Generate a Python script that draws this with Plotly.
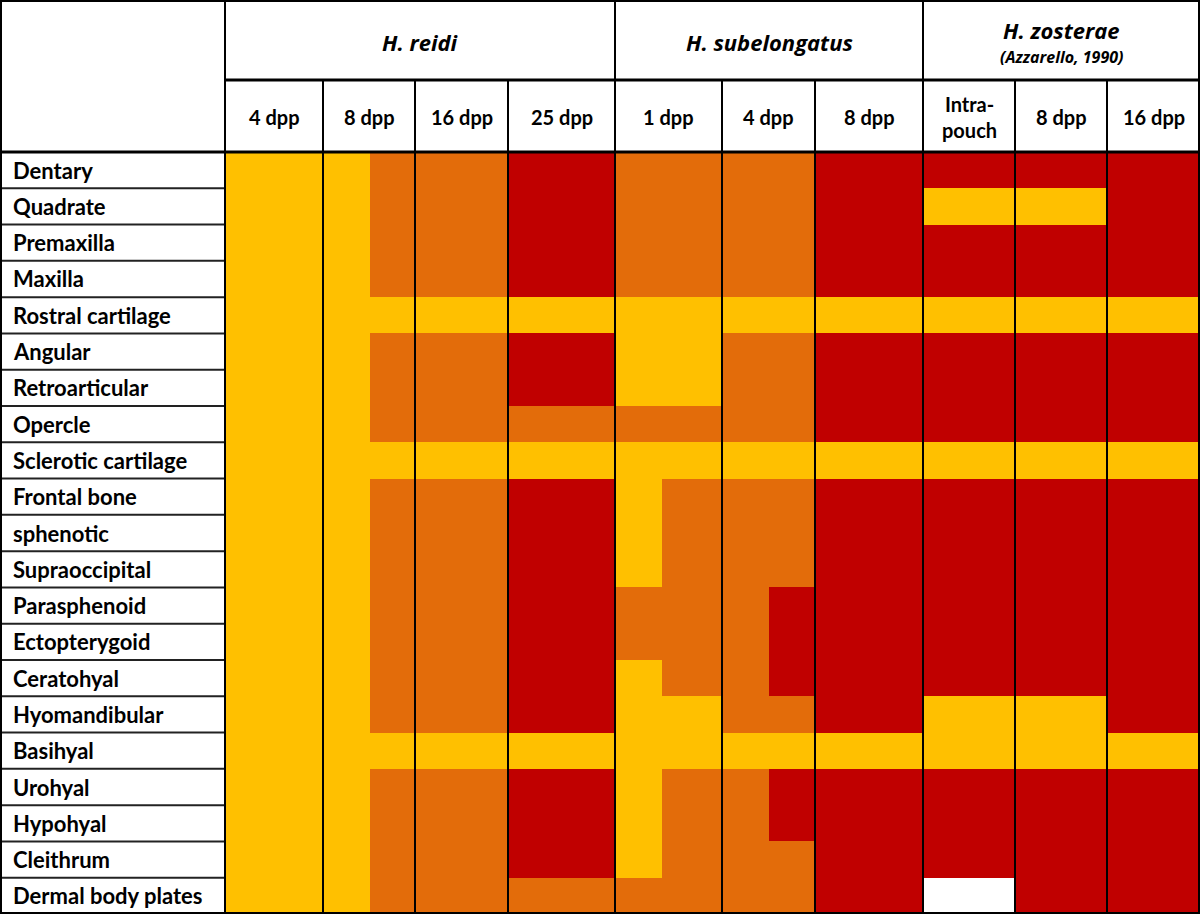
import numpy as np
import plotly.graph_objects as go

# ---------------- data ----------------
rows = ["Dentary", "Quadrate", "Premaxilla", "Maxilla", "Rostral cartilage", "Angular",
        "Retroarticular", "Opercle", "Sclerotic cartilage", "Frontal bone", "sphenotic",
        "Supraoccipital", "Parasphenoid", "Ectopterygoid", "Ceratohyal", "Hyomandibular",
        "Basihyal", "Urohyal", "Hypohyal", "Cleithrum", "Dermal body plates"]

species = ["H. reidi", "H. subelongatus", "H. zosterae"]
species_note = ["", "", "(Azzarello, 1990)"]
stage_labels = ["4 dpp", "8 dpp", "16 dpp", "25 dpp", "1 dpp", "4 dpp", "8 dpp",
                "Intra-<br>pouch", "8 dpp", "16 dpp"]
stage_species = [0, 0, 0, 0, 1, 1, 1, 2, 2, 2]

# cell codes: Y = yellow level, O = orange level, R = red level, "-" = no data,
# "A|B" = cell split in an earlier (left) and later (right) part
reidi_4dpp = ["Y"] * 21
reidi_8dpp = ["Y|O", "Y|O", "Y|O", "Y|O", "Y", "Y|O", "Y|O", "Y|O", "Y", "Y|O", "Y|O",
              "Y|O", "Y|O", "Y|O", "Y|O", "Y|O", "Y", "Y|O", "Y|O", "Y|O", "Y|O"]
reidi_16dpp = ["O", "O", "O", "O", "Y", "O", "O", "O", "Y", "O", "O",
               "O", "O", "O", "O", "O", "Y", "O", "O", "O", "O"]
reidi_25dpp = ["R", "R", "R", "R", "Y", "R", "R", "O", "Y", "R", "R",
               "R", "R", "R", "R", "R", "Y", "R", "R", "R", "O"]
subel_1dpp = ["O", "O", "O", "O", "Y", "Y", "Y", "O", "Y", "Y|O", "Y|O",
              "Y|O", "O", "O", "Y|O", "Y", "Y", "Y|O", "Y|O", "Y|O", "O"]
subel_4dpp = ["O", "O", "O", "O", "Y", "O", "O", "O", "Y", "O", "O",
              "O", "O|R", "O|R", "O|R", "O", "Y", "O|R", "O|R", "O", "O"]
subel_8dpp = ["R", "R", "R", "R", "Y", "R", "R", "R", "Y", "R", "R",
              "R", "R", "R", "R", "R", "Y", "R", "R", "R", "R"]
zost_intra = ["R", "Y", "R", "R", "Y", "R", "R", "R", "Y", "R", "R",
              "R", "R", "R", "R", "Y", "Y", "R", "R", "R", "-"]
zost_8dpp = ["R", "Y", "R", "R", "Y", "R", "R", "R", "Y", "R", "R",
             "R", "R", "R", "R", "Y", "Y", "R", "R", "R", "R"]
zost_16dpp = ["R", "R", "R", "R", "Y", "R", "R", "R", "Y", "R", "R",
              "R", "R", "R", "R", "R", "Y", "R", "R", "R", "R"]

columns = [reidi_4dpp, reidi_8dpp, reidi_16dpp, reidi_25dpp, subel_1dpp, subel_4dpp,
           subel_8dpp, zost_intra, zost_8dpp, zost_16dpp]

level = {"Y": 0, "O": 1, "R": 2, "-": np.nan}

# ---------------- layout (pixels) ----------------
W, H = 1200, 914
label_w = 225
head1, head2 = 80, 152
col_edges = [225, 323, 415, 508, 615, 722, 815, 923, 1015, 1107, 1200]
split_x = {1: 370, 4: 662, 5: 769}

YEL, ORA, RED = "#FFC000", "#E36C0A", "#C00000"
FONT = "Lato"
FONT_IT = "Open Sans"


def px(x):
    return x / W


def py(y):
    return 1 - y / H


# build sub-column edges and z matrix
x_edges = [col_edges[0]]
z_cols = []
for ci, col in enumerate(columns):
    if ci in split_x:
        x_edges += [split_x[ci], col_edges[ci + 1]]
        left = [level[c.split("|")[0]] for c in col]
        right = [level[c.split("|")[-1]] for c in col]
        z_cols += [left, right]
    else:
        x_edges.append(col_edges[ci + 1])
        z_cols.append([level[c.split("|")[-1]] for c in col])
z = np.array(z_cols, dtype=float).T

fig = go.Figure(go.Heatmap(
    z=z, x=x_edges, y=rows,
    zmin=0, zmax=2,
    colorscale=[[0, YEL], [1 / 3, YEL], [1 / 3, ORA], [2 / 3, ORA], [2 / 3, RED], [1, RED]],
    showscale=False, hoverinfo="skip", xgap=0, ygap=0,
))

shapes = []


def line(x0, y0, x1, y1, w=2, color="black"):
    shapes.append(dict(type="line", xref="paper", yref="paper",
                       x0=px(x0), y0=py(y0), x1=px(x1), y1=py(y1),
                       line=dict(color=color, width=w)))


n = len(rows)
row_h = (H - head2) / n
# label column row separators
for i in range(1, n):
    yy = head2 + i * row_h
    line(0, yy, label_w, yy, 2, "#222222")
# vertical lines
species_bounds = {225, 615, 923}
for x in col_edges[:-1]:
    if x in species_bounds:
        line(x, 0, x, H, 2)
    else:
        line(x, head1, x, H, 2)
# horizontal header lines
line(label_w, head1, W, head1, 3)
line(0, head2, W, head2, 3)
# outer border
shapes.append(dict(type="rect", xref="paper", yref="paper",
                   x0=px(1), y0=py(H - 1), x1=px(W - 1), y1=py(1),
                   line=dict(color="black", width=2), fillcolor="rgba(0,0,0,0)"))

ann = []


def text(x, y, t, size, xanchor="center", yref="paper", family=FONT):
    ann.append(dict(x=x, y=y, xref="paper", yref=yref, text=t, showarrow=False,
                    xanchor=xanchor, yanchor="middle",
                    font=dict(family=family, size=size, color="black")))


# species headers
sp_spans = [(225, 615), (615, 923), (923, 1200)]
for s, (a, b) in enumerate(sp_spans):
    if species_note[s]:
        text(px((a + b) / 2), py(30), "<b><i>%s</i></b>" % species[s], 22, family=FONT_IT)
        text(px((a + b) / 2), py(57), "<b><i>%s</i></b>" % species_note[s], 16,
             family=FONT_IT)
    else:
        text(px((a + b) / 2), py(42), "<b><i>%s</i></b>" % species[s], 22, family=FONT_IT)
# stage headers
for ci, lab in enumerate(stage_labels):
    cx = (col_edges[ci] + col_edges[ci + 1]) / 2
    text(px(cx), py((head1 + head2) / 2 + 1), "<b>%s</b>" % lab, 20)
# row labels
for r in rows:
    text(px(11), r, "<b>%s</b>" % r, 22, xanchor="left", yref="y")

fig.update_layout(
    width=W, height=H, margin=dict(l=0, r=0, t=0, b=0),
    paper_bgcolor="white", plot_bgcolor="white",
    xaxis=dict(domain=[px(label_w), 1], range=[col_edges[0], col_edges[-1]],
               visible=False, fixedrange=True),
    yaxis=dict(domain=[0, py(head2)], range=[n - 0.5, -0.5], visible=False,
               fixedrange=True),
    shapes=shapes, annotations=ann, showlegend=False,
)

fig.write_html("out.html", config={"displayModeBar": False},
               post_script="document.body.style.margin='0';document.body.style.overflow='hidden';")
